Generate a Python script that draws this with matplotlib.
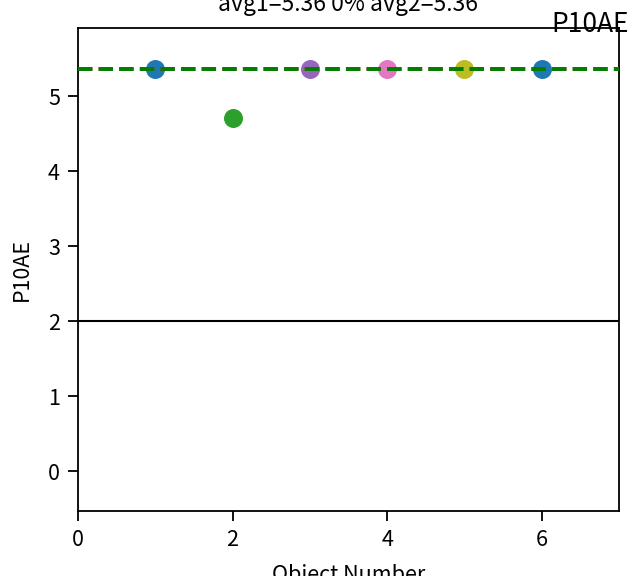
import numpy as np
import matplotlib
matplotlib.use('Agg')
import matplotlib.pyplot as plt

plt.rcParams['font.family'] = ['Noto Sans CJK SC', 'DejaVu Sans']
plt.rcParams['axes.unicode_minus'] = False

# data
obj_num = [1, 2, 3, 4, 5, 6]
p10ae = [5.36, 4.71, 5.36, 5.36, 5.36, 5.36]
point_colors = ['tab:blue', 'tab:green', 'tab:purple', 'tab:pink', 'tab:olive', 'tab:blue']
avg1 = 5.36
avg2 = 5.36
limit = 2

fig = plt.figure(figsize=(6.31, 5.76), dpi=100)
ax = fig.add_axes([78/631, 1 - 511/576, (619-78)/631, (511-28)/576])

for x, y, c in zip(obj_num, p10ae, point_colors):
    ax.scatter(x, y, color=c, s=160, zorder=2)

ax.axhline(avg1, color='tab:red', linestyle='--', linewidth=2.8, zorder=3)
ax.axhline(avg2, color='green', linestyle='--', linewidth=2.8, zorder=4)
ax.axhline(limit, color='black', linewidth=1.5, zorder=1)

ax.set_xlim(0, 7)
ax.set_ylim(-0.53, 5.907)
ax.set_xticks([0, 2, 4, 6])
ax.set_yticks([0, 1, 2, 3, 4, 5])
ax.tick_params(labelsize=15.5, width=1.3, length=7, pad=6)
for s in ax.spines.values():
    s.set_linewidth(1.3)

ax.set_xlabel('Object Number', fontsize=15.5, labelpad=9)
ax.set_ylabel('P10AE', fontsize=15.5, labelpad=11)
ax.set_title('avg1=%.2f 0%% avg2=%.2f' % (avg1, avg2), fontsize=16.5, pad=12)
fig.text(629/631, 1 - 32/576, 'P10AE', fontsize=19, ha='right', va='baseline')

fig.savefig('out.png', dpi=100)
